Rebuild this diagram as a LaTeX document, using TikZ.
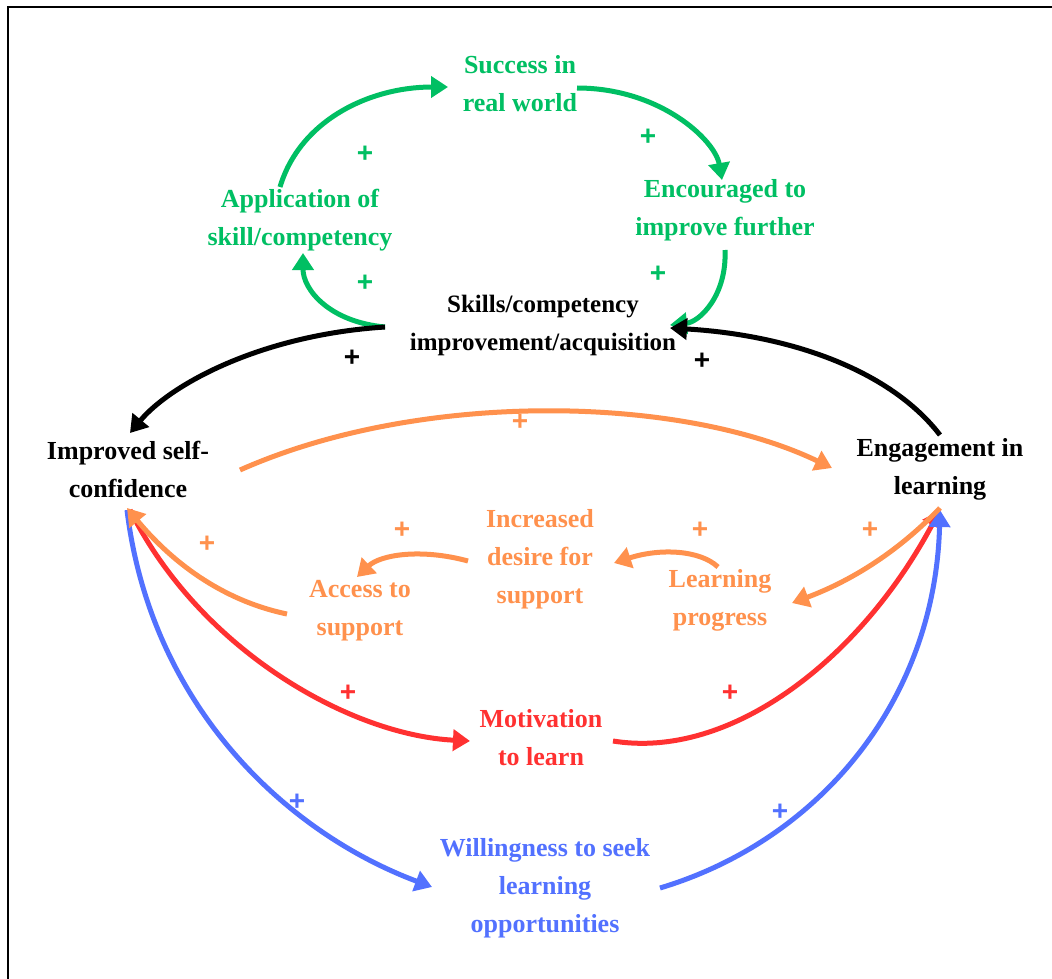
\documentclass[tikz,border=0pt]{standalone}
\usepackage{fontspec}
\setmainfont{Liberation Serif}
\newfontfamily\plusfont{Liberation Sans}
\usetikzlibrary{arrows.meta}
\definecolor{cgreen}{HTML}{00BF63}
\definecolor{corange}{HTML}{FF914D}
\definecolor{cred}{HTML}{FF3131}
\definecolor{cblue}{HTML}{5271FF}
\tikzset{
  lbl/.style={align=center,font=\fontsize{26}{38}\selectfont\bfseries,inner sep=0pt},
  pl/.style={font=\plusfont\fontsize{28}{28}\selectfont\bfseries,inner sep=0pt},
  link/.style={line width=5pt,-{Triangle[length=17pt,width=21pt]}},
}
\begin{document}
\begin{tikzpicture}[x=1pt,y=-1pt]
\useasboundingbox (0,0) rectangle (1052,979);
\fill[white] (0,0) rectangle (1052,979);
% frame
\draw[line width=2pt] (8,979) -- (8,7) -- (1052,7);

% nodes
\node[lbl,text=cgreen] (suc) at (520,84) {Success in\\real world};
\node[lbl,text=cgreen] (app) at (300,220) {Application of\\skill/competency};
\node[lbl,text=cgreen] (enc) at (725,210) {Encouraged to\\improve further};
\node[lbl,font=\fontsize{25}{38}\selectfont\bfseries] (skills) at (543,325) {Skills/competency\\improvement/acquisition};
\node[lbl] (imp) at (128,469) {Improved self-\\confidence};
\node[lbl] (eng) at (940,469) {Engagement in\\learning};
\node[lbl,text=corange] (inc) at (540,559) {Increased\\desire for\\support};
\node[lbl,text=corange] (acc) at (360,611) {Access to\\support};
\node[lbl,text=corange] (lp) at (720,600) {Learning\\progress};
\node[lbl,text=cred] (mot) at (541,738) {Motivation\\to learn};
\node[lbl,text=cblue] (wil) at (545,888) {Willingness to seek\\learning\\opportunities};

% green loop
\draw[link,cgreen] ([shift={(-158,2)}]skills.center) .. controls +(-55,-5) and +(0,37) .. ([shift={(3,33)}]app.center);
\draw[link,cgreen] ([shift={(-20,-33)}]app.center) .. controls +(20,-67) and +(-78,0) .. ([shift={(-72,3)}]suc.center);
\draw[link,cgreen] ([shift={(57,4)}]suc.center) .. controls +(83,0) and +(-7,-40) .. ([shift={(-3,-30)}]enc.center);
\draw[link,cgreen] ([shift={(0,40)}]enc.center) .. controls +(2,45) and +(30,-3) .. ([shift={(127,0)}]skills.center);

% black
\draw[link,black] ([shift={(-158,2)}]skills.center) .. controls +(-125,8) and +(40,-48) .. ([shift={(2,-36)}]imp.center);
\draw[link,black] ([shift={(0,-34)}]eng.center) .. controls +(-50,-65) and +(120,7) .. ([shift={(127,3)}]skills.center);

% red
\draw[link,cred] ([shift={(2,41)}]imp.center) .. controls +(70,140) and +(-120,-6) .. ([shift={(-71,3)}]mot.center);
\draw[link,cred] ([shift={(72,3)}]mot.center) .. controls +(117,19) and +(-80,150) .. ([shift={(0,41)}]eng.center);

% blue
\draw[link,cblue] ([shift={(-1,41)}]imp.center) .. controls +(23,190) and +(-152,-57) .. ([shift={(-113,-1)}]wil.center);
\draw[link,cblue] ([shift={(115,0)}]wil.center) .. controls +(160,-48) and +(-5,190) .. ([shift={(0,41)}]eng.center);

% orange
\draw[link,corange] ([shift={(112,1)}]imp.center) .. controls +(180,-80) and +(-152,-73) .. ([shift={(-108,-1)}]eng.center);
\draw[link,corange] ([shift={(0,39)}]eng.center) .. controls +(-50,52) and +(48,-18) .. ([shift={(72,3)}]lp.center);
\draw[link,corange] ([shift={(-2,-33)}]lp.center) .. controls +(-18,-17) and +(46,-15) .. ([shift={(74,4)}]inc.center);
\draw[link,corange] ([shift={(-72,2)}]inc.center) .. controls +(-48,-13) and +(23,-22) .. ([shift={(-3,-34)}]acc.center);
\draw[link,corange] ([shift={(-73,3)}]acc.center) .. controls +(-67,-14) and +(43,52) .. ([shift={(-1,39)}]imp.center);

% polarity signs
\node[pl,text=cgreen] (p1) at (365,154) {+};
\node[pl,text=cgreen] (p2) at (648,137) {+};
\node[pl,text=cgreen] (p3) at (365,283) {+};
\node[pl,text=cgreen] (p4) at (658,274) {+};
\node[pl] (p5) at (352,358) {+};
\node[pl] (p6) at (702,361) {+};
\node[pl,text=corange] (p7) at (520,422) {+};
\node[pl,text=corange] (p8) at (207,544) {+};
\node[pl,text=corange] (p9) at (402,530) {+};
\node[pl,text=corange] (p10) at (700,530) {+};
\node[pl,text=corange] (p11) at (870,530) {+};
\node[pl,text=cred] (p12) at (348,693) {+};
\node[pl,text=cred] (p13) at (730,693) {+};
\node[pl,text=cblue] (p14) at (297,802) {+};
\node[pl,text=cblue] (p15) at (780,812) {+};
\end{tikzpicture}
\end{document}
